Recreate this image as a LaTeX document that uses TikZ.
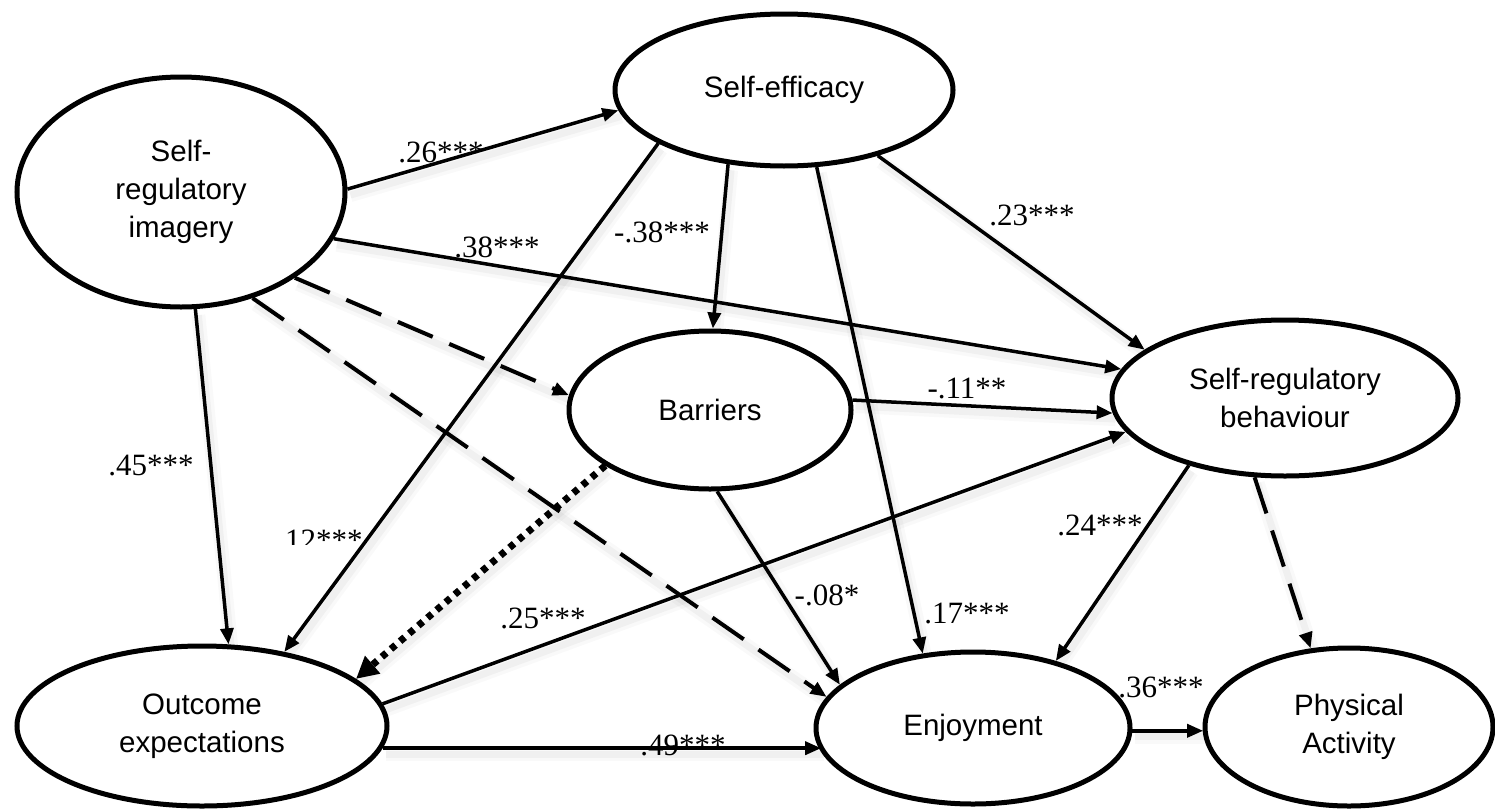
\documentclass[tikz,border=0pt]{standalone}
\usepackage{fontspec}
\setmainfont{Liberation Serif}
\setsansfont{Liberation Sans}
\usetikzlibrary{arrows.meta,shapes.geometric}
\pgfdeclarelayer{bg}
\pgfsetlayers{bg,main}
\begin{document}
\begin{tikzpicture}[x=1pt,y=-1pt,
  var/.style={ellipse, draw, line width=5pt, inner sep=0pt, align=center,
    font=\sffamily\fontsize{29.5}{38}\selectfont, fill=white},
  shadowed/.style={
    preaction={draw=black, draw opacity=0.025, line width=14pt, -,
      transform canvas={shift={(3pt,-6pt)}}},
    preaction={draw=black, draw opacity=0.035, line width=7pt, -,
      transform canvas={shift={(3pt,-6pt)}}}},
  link/.style={line width=3.5pt, -{Triangle[length=16pt,width=13pt]}, shadowed},
  dlink/.style={link, line width=4pt, dash pattern=on 38pt off 18pt},
  dotlink/.style={line width=7pt, dash pattern=on 6pt off 6pt,
    -{Triangle[length=22pt,width=22pt]}, shadowed},
  lab/.style={font=\fontsize{31}{36}\selectfont, inner sep=0pt, anchor=base}
]
\useasboundingbox (0,0) rectangle (1495,811);

\node[var, minimum width=328pt, minimum height=230pt] (sri) at (181,192) {Self-\\regulatory\\imagery};
\node[var, minimum width=338pt, minimum height=152pt] (se) at (784,90) {Self-efficacy};
\node[var, minimum width=282pt, minimum height=158pt] (bar) at (710,410) {Barriers};
\node[var, minimum width=346pt, minimum height=156pt] (srb) at (1285,398) {Self-regulatory\\behaviour};
\node[var, minimum width=370pt, minimum height=160pt] (oe) at (202,726) {Outcome\\expectations};
\node[var, minimum width=314pt, minimum height=152pt] (enj) at (973,728) {Enjoyment};
\node[var, minimum width=288pt, minimum height=158pt] (pa) at (1349,727) {Physical\\Activity};

\begin{pgfonlayer}{bg}
\fill[white] (0,0) rectangle (1495,811);
\draw[link] (sri.1) -- (se.187);
\draw[link] (sri.-17.6) -- (srb.170.3);
\draw[dlink] (sri.-37.8) -- (bar.174.8);
\draw[dlink] (sri.-56.3) -- (enj.168.9);
\draw[link] (sri.-83.3) -- (oe.72.6);
\draw[link] (se.-127.6) -- (bar.88.5);
\draw[link] (se.-157.1) -- (oe.42);
\draw[link] (se.-67.1) -- (enj.124.2);
\draw[link] (se.-35.5) -- (srb.161);
\draw[link] (bar.4) -- (srb.185.6);
\draw[dotlink] (bar.-152.6) -- (oe.17.8);
\draw[link] (bar.-85.2) -- (enj.162.2);
\draw[link] (oe.7.5) -- (srb.-168.2);
\draw[link] (oe.-7.7) -- (oe.-7.7 -| enj.-171.8);
\draw[link] (srb.-145) -- (enj.39.9);
\draw[dlink] (srb.-111.2) -- (pa.116);
\draw[link] (enj.-1.8) -- (enj.-1.8 -| pa.-177.7);
\end{pgfonlayer}

\node[lab] (l1) at (441,162) {.26***};
\node[lab] (l2) at (497,257) {.38***};
\node[lab] (l3) at (662,242) {-.38***};
\node[lab] (l4) at (1032,225) {.23***};
\node[lab] (l5) at (151,475) {.45***};
\begin{scope}
\clip (250,500) rectangle (400,544);
\node[lab] (l6) at (320,550) {.12***};
\end{scope}
\node[lab] (l7) at (967,398) {-.11**};
\node[lab] (l8) at (543,628) {.25***};
\node[lab] (l9) at (827,605) {-.08*};
\node[lab] (l10) at (967,623) {.17***};
\node[lab] (l11) at (1100,535) {.24***};
\node[lab] (l12) at (683,755) {.49***};
\node[lab] (l13) at (1161,697) {.36***};
\end{tikzpicture}
\end{document}
